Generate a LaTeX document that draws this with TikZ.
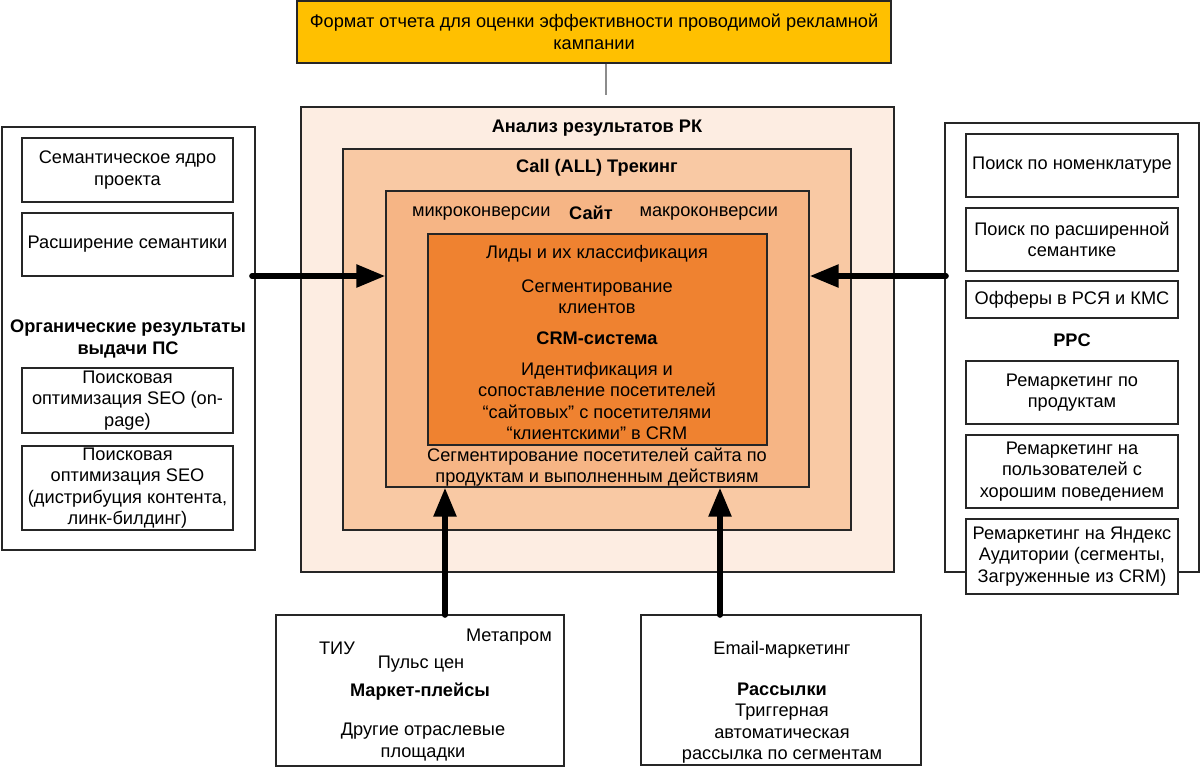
\documentclass[tikz,border=0pt]{standalone}
\usepackage{fontspec}
\setmainfont{Liberation Sans}
\usetikzlibrary{arrows.meta,positioning,fit}
\definecolor{gold}{HTML}{FFC000}
\definecolor{peachA}{HTML}{FDEDE2}
\definecolor{peachB}{HTML}{F9C9A4}
\definecolor{peachC}{HTML}{F6B585}
\definecolor{crmorange}{HTML}{EF8230}
\tikzstyle{frame} = [draw=black!85,line width=0.7pt,inner sep=0pt]
\tikzstyle{box} = [frame,fill=white]
\tikzstyle{txt} = [inner sep=0pt,align=center]
\tikzstyle{head} = [txt,font=\fontsize{9.1}{10.7}\selectfont\bfseries]
\tikzstyle{feed} = [line width=2.8pt,line cap=round,-{Triangle[length=14.5pt,width=11pt]}]

\begin{document}
\begin{tikzpicture}[x=0.5pt,y=-0.5pt,font=\fontsize{9.1}{10.7}\selectfont]
\useasboundingbox (0,0) rectangle (1200,768);

% report format
\node[box,fill=gold,fit={(297,1)(891,63)},label={[txt]center:Формат отчета для оценки эффективности проводимой рекламной\\кампании}] (report) {};
\coordinate (rl) at (606,95);
\draw[black!45,line width=0.6pt] (report.south -| rl) -- (rl);

% nested analysis boxes
\node[frame,fill=peachA,fit={(301,107)(894,572)}] (analysis) {};
\node[frame,fill=peachB,fit={(343,149)(851,530)}] (calltrack) {};
\node[frame,fill=peachC,fit={(386,191)(809,487)}] (site) {};
\node[frame,fill=crmorange,fit={(428,234)(767,445)}] (crm) {};

\node[head] at (597,128) {Анализ результатов РК};
\node[head] at (597,168) {Call (ALL) Трекинг};
\node[head] (sitelbl) at (591,213) {Сайт};
\node[txt,left=9pt of sitelbl] (micro) {микроконверсии};
\node[txt,right=13pt of sitelbl] (macro) {макроконверсии};
\node[txt] (leads) at (597,254) {Лиды и их классификация};
\node[txt] (segcl) at (597,297) {Сегментирование\\клиентов};
\node[head] (crmlbl) at (597,338) {CRM-система};
\node[txt] (ident) at (597,401) {Идентификация и\\сопоставление посетителей\\“сайтовых” с посетителями\\“клиентскими” в CRM};
\node[txt] (segsite) at (597,467) {Сегментирование посетителей сайта по\\продуктам и выполненным действиям};

% organic
\node[frame,fill=white,fit={(2,127)(255,550)}] (organic) {};
\node[box,fit={(22,138)(233,202)},label={[txt]center:Семантическое ядро\\проекта}] (core) {};
\node[box,fit={(22,213)(233,276)},label={[txt]center:Расширение семантики}] (expand) {};
\node[head] (orglbl) at (128,339) {Органические результаты\\выдачи ПС};
\node[box,fit={(22,368)(233,433)},label={[txt]center:Поисковая\\оптимизация SEO (on-\\page)}] (seoA) {};
\node[box,fit={(22,446)(233,530)},label={[txt]center:Поисковая\\оптимизация SEO\\(дистрибуция контента,\\линк-билдинг)}] (seoB) {};

% ppc
\node[frame,fill=white,fit={(945,123)(1199,572)}] (ppc) {};
\node[box,fit={(966,134)(1178,197)},label={[txt]center:Поиск по номенклатуре}] (nomen) {};
\node[box,fit={(966,208)(1178,271)},label={[txt]center:Поиск по расширенной\\семантике}] (wide) {};
\node[box,fit={(966,281)(1178,318)},label={[txt]center:Офферы в РСЯ и КМС}] (offers) {};
\node[head] (ppclbl) at (1072,340) {PPC};
\node[box,fit={(966,361)(1178,424)},label={[txt]center:Ремаркетинг по\\продуктам}] (rmprod) {};
\node[box,fit={(966,435)(1178,508)},label={[txt]center:Ремаркетинг на\\пользователей с\\хорошим поведением}] (rmgood) {};
\node[box,fit={(966,519)(1178,594)},label={[txt]center:Ремаркетинг на Яндекс\\Аудитории (сегменты,\\Загруженные из CRM)}] (rmya) {};

% marketplaces
\node[frame,fill=white,fit={(276,615)(564,766)}] (market) {};
\node[txt] (tiu) at (337,648) {ТИУ};
\node[txt] (metaprom) at (509,637) {Метапром};
\node[txt] (pulse) at (421,664) {Пульс цен};
\node[head] (mktlbl) at (420,692) {Маркет-плейсы};
\node[txt] (other) at (423,742) {Другие отраслевые\\площадки};

% mailing
\node[frame,fill=white,fit={(641,615)(921,765)}] (mail) {};
\node[txt] (email) at (782,650) {Email-маркетинг};
\node[txt] (trigger) at (782,723) {\textbf{Рассылки}\\Триггерная\\автоматическая\\рассылка по сегментам};

% flows into the site
\coordinate (ol) at (252,276);
\coordinate (pr) at (946,276);
\coordinate (mk) at (445,615);
\coordinate (ml) at (720,615);
\draw[feed] (ol) -- (ol -| site.west);
\draw[feed] (pr) -- (pr -| site.east);
\draw[feed] (mk) -- (mk |- site.south);
\draw[feed] (ml) -- (ml |- site.south);
\end{tikzpicture}
\end{document}
